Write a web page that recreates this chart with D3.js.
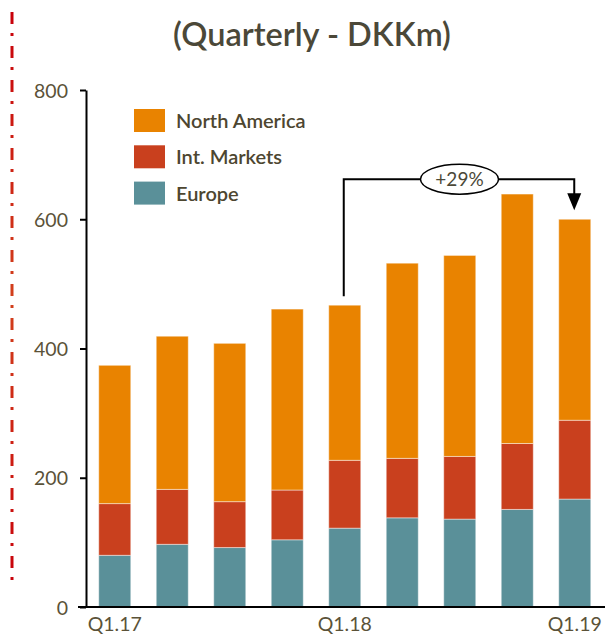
<!DOCTYPE html>
<html>
<head>
	<meta charset="utf-8">
	<title>Quarterly - DKKm</title>
	<style>
		body { margin: 0; background: #fff; }
		svg { display: block; font-family: Lato, "Open Sans", sans-serif; }
		.axis path, .axis line { stroke: #000; stroke-width: 2; }
		.axis text { font-size: 19.5px; fill: #5b5238; font-family: Lato, sans-serif; }
		.bar rect { stroke: rgba(255,255,255,0.45); stroke-width: 1; }
	</style>
</head>
<body>
<div id="chart"></div>
<script src="https://d3js.org/d3.v7.min.js"></script>
<script>
	// data (DKKm)
	var quarters = ["Q1.17", "Q2.17", "Q3.17", "Q4.17", "Q1.18", "Q2.18", "Q3.18", "Q4.18", "Q1.19"];
	var europe = [80, 97, 92, 104, 122, 138, 136, 151, 167];
	var intMarkets = [80, 85, 71, 77, 105, 92, 97, 102, 122];
	var northAmerica = [214, 237, 245, 280, 240, 302, 311, 386, 311];
	var xTickLabels = ["Q1.17", "Q1.18", "Q1.19"];
	var yTicks = [0, 200, 400, 600, 800];
	var seriesNames = ["Europe", "Int. Markets", "North America"];
	var seriesColors = ["#5a9099", "#c9401e", "#e98300"];
	var growthLabel = "+29%";

	var W = 607, H = 637;

	var svg = d3.select("#chart").append("svg")
		.attr("width", W)
		.attr("height", H);

	var x = d3.scaleBand()
		.domain(quarters)
		.range([86, 603.5])
		.paddingInner(0.443)
		.paddingOuter(0.2215);

	var y = d3.scaleLinear()
		.domain([0, 800])
		.range([607, 90]);

	// red dash-dot line on the left edge
	var grad = svg.append("defs").append("linearGradient")
		.attr("id", "redfade")
		.attr("gradientUnits", "userSpaceOnUse")
		.attr("x1", 0).attr("y1", 12).attr("x2", 0).attr("y2", 588);
	grad.append("stop").attr("offset", "0%").attr("stop-color", "#c8000a");
	grad.append("stop").attr("offset", "50%").attr("stop-color", "#d2401c");
	grad.append("stop").attr("offset", "100%").attr("stop-color", "#c8000a");
	svg.append("line")
		.attr("x1", 12).attr("x2", 12)
		.attr("y1", 12).attr("y2", 588)
		.attr("stroke", "url(#redfade)")
		.attr("stroke-width", 3)
		.attr("stroke-dasharray", "12,9,3,10");

	// title
	svg.append("text")
		.attr("x", 312).attr("y", 46)
		.attr("text-anchor", "middle")
		.style("font-size", "32.5px")
		.style("font-weight", "600")
		.style("fill", "#4b4838")
		.text("(Quarterly - DKKm)");

	// stack
	var rows = quarters.map(function(q, i) {
		return { q: q, "Europe": europe[i], "Int. Markets": intMarkets[i], "North America": northAmerica[i] };
	});
	var stacked = d3.stack().keys(seriesNames)(rows);

	svg.selectAll("g.bar")
		.data(stacked)
		.enter().append("g")
		.attr("class", "bar")
		.attr("fill", function(d, i) { return seriesColors[i]; })
		.selectAll("rect")
		.data(function(d) { return d; })
		.enter().append("rect")
		.attr("x", function(d) { return x(d.data.q); })
		.attr("width", x.bandwidth())
		.attr("y", function(d) { return y(d[1]); })
		.attr("height", function(d) { return y(d[0]) - y(d[1]); });

	// y axis
	var yAxis = svg.append("g")
		.attr("class", "axis")
		.attr("transform", "translate(86,0)")
		.call(d3.axisLeft(y).tickValues(yTicks).tickSize(6).tickSizeOuter(0).tickPadding(12));
	yAxis.selectAll("text").attr("dy", "0.36em");

	// x axis baseline + labels
	svg.append("line")
		.attr("x1", 78).attr("x2", 605)
		.attr("y1", y(0)).attr("y2", y(0))
		.attr("stroke", "#000").attr("stroke-width", 2);
	svg.selectAll("text.xlab")
		.data(xTickLabels)
		.enter().append("text")
		.attr("class", "xlab")
		.attr("x", function(d) { return x(d) + x.bandwidth() / 2; })
		.attr("y", 631)
		.attr("text-anchor", "middle")
		.style("font-size", "19.5px")
		.style("fill", "#5b5238")
		.text(function(d) { return d; });

	// legend
	var legendOrder = [2, 1, 0];
	var legend = svg.selectAll("g.legend")
		.data(legendOrder)
		.enter().append("g")
		.attr("class", "legend")
		.attr("transform", function(d, i) { return "translate(134," + (109 + i * 36.3) + ")"; });
	legend.append("rect")
		.attr("width", 31).attr("height", 23)
		.attr("fill", function(d) { return seriesColors[d]; });
	legend.append("text")
		.attr("x", 42).attr("y", 19)
		.style("font-size", "20px")
		.style("font-weight", "600")
		.style("fill", "#4d4630")
		.text(function(d) { return seriesNames[d]; });

	// growth bracket from Q1.18 to Q1.19
	var total = function(i) { return europe[i] + intMarkets[i] + northAmerica[i]; };
	var i0 = quarters.indexOf("Q1.18"), i1 = quarters.indexOf("Q1.19");
	var xa = x(quarters[i0]) + x.bandwidth() / 2 - 1;
	var xb = x(quarters[i1]) + x.bandwidth() / 2 - 0.5;
	var yTop = y(662);
	svg.append("path")
		.attr("d", "M" + xa + "," + (y(total(i0)) - 9) + "V" + yTop + "H" + xb + "V" + (y(total(i1)) - 24))
		.attr("fill", "none")
		.attr("stroke", "#000")
		.attr("stroke-width", 2);
	var tipY = y(total(i1)) - 9;
	svg.append("path")
		.attr("d", "M" + (xb - 7) + "," + (tipY - 17) + "L" + (xb + 7) + "," + (tipY - 17) + "L" + xb + "," + tipY + "Z")
		.attr("fill", "#000");
	var ex = (xa + xb) / 2 + 0.5;
	svg.append("ellipse")
		.attr("cx", ex).attr("cy", yTop)
		.attr("rx", 39).attr("ry", 15)
		.attr("fill", "#fff").attr("stroke", "#000").attr("stroke-width", 1.5);
	svg.append("text")
		.attr("x", ex).attr("y", yTop + 7)
		.attr("text-anchor", "middle")
		.style("font-size", "19px")
		.style("fill", "#4b4838")
		.text(growthLabel);
</script>
</body>
</html>
